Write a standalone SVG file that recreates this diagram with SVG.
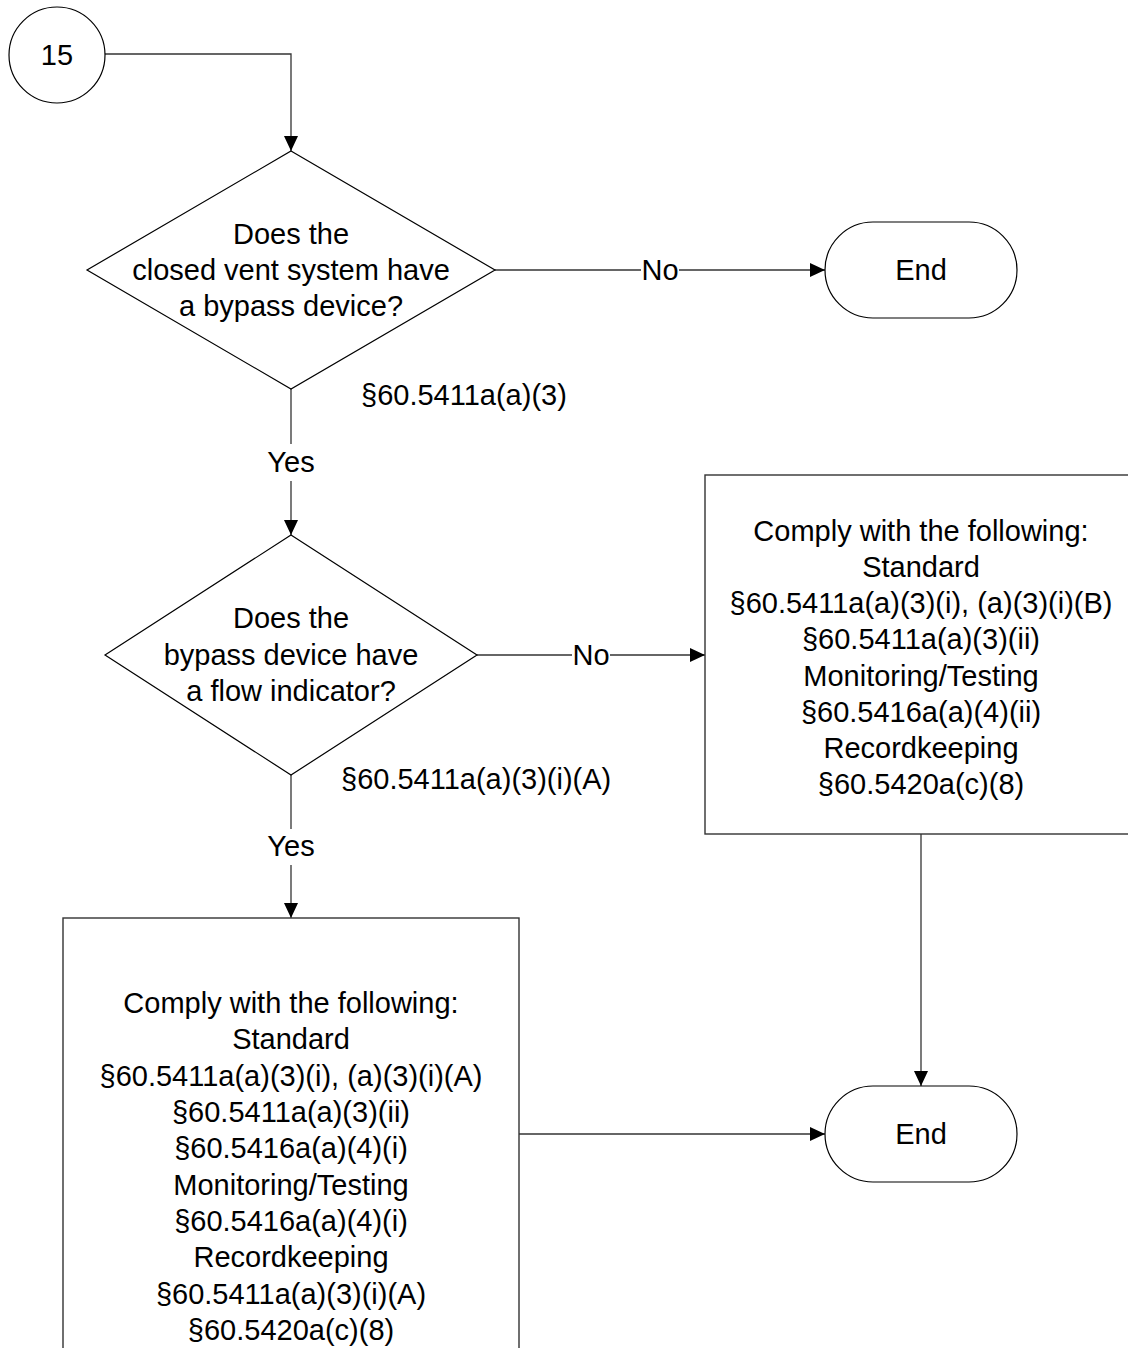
<svg xmlns="http://www.w3.org/2000/svg" width="1128" height="1348" viewBox="0 0 1128 1348">
<style>
.shape{fill:#fff;stroke:#000;stroke-width:1.2}
.box{fill:#fff;stroke:#333;stroke-width:1.4}
.ln{fill:none;stroke:#333;stroke-width:1.3}
text{font-family:"Liberation Sans",Arial,sans-serif;font-size:29px;fill:#000}
.c{text-anchor:middle}
</style>
<defs>
<marker id="ah" markerWidth="15" markerHeight="14" refX="15" refY="7" orient="auto" markerUnits="userSpaceOnUse">
<path d="M0,0 L15,7 L0,14 Z" fill="#000"/>
</marker>
</defs>
<rect width="1128" height="1348" fill="#fff"/>
<g id="connectors">
<path class="ln" d="M105,54 H291 V151" marker-end="url(#ah)"/>
<path class="ln" d="M495,270 H641"/>
<path class="ln" d="M679,270 H825" marker-end="url(#ah)"/>
<text class="c" x="660" y="280">No</text>
<path class="ln" d="M291,389 V444"/>
<path class="ln" d="M291,481 V535" marker-end="url(#ah)"/>
<text class="c" x="291" y="472">Yes</text>
<path class="ln" d="M477,655 H572"/>
<path class="ln" d="M610,655 H705" marker-end="url(#ah)"/>
<text class="c" x="591" y="665">No</text>
<path class="ln" d="M291,775 V829"/>
<path class="ln" d="M291,865 V918" marker-end="url(#ah)"/>
<text class="c" x="291" y="856">Yes</text>
<path class="ln" d="M921,834 V1086" marker-end="url(#ah)"/>
<path class="ln" d="M519,1134 H825" marker-end="url(#ah)"/>
<text x="361" y="405">§60.5411a(a)(3)</text>
<text x="341" y="789">§60.5411a(a)(3)(i)(A)</text>
</g>
<g id="start15">
<circle class="shape" cx="57" cy="55" r="48"/>
<text class="c" x="57" y="65">15</text>
</g>
<g id="decision1">
<path class="shape" d="M291,151 L495,270 L291,389 L87,270 Z"/>
<text class="c" x="291" y="244">Does the</text>
<text class="c" x="291" y="280">closed vent system have</text>
<text class="c" x="291" y="316">a bypass device?</text>
</g>
<g id="end1">
<rect class="shape" x="825" y="222" width="192" height="96" rx="48" ry="48"/>
<text class="c" x="921" y="280">End</text>
</g>
<g id="decision2">
<path class="shape" d="M291,535 L477,655 L291,775 L105,655 Z"/>
<text class="c" x="291" y="628">Does the</text>
<text class="c" x="291" y="665">bypass device have</text>
<text class="c" x="291" y="701">a flow indicator?</text>
</g>
<g id="box-no-flow">
<rect class="box" x="705" y="475" width="440" height="359"/>
<text class="c" x="921" y="541">Comply with the following:</text>
<text class="c" x="921" y="577">Standard</text>
<text class="c" x="921" y="613">§60.5411a(a)(3)(i), (a)(3)(i)(B)</text>
<text class="c" x="921" y="649">§60.5411a(a)(3)(ii)</text>
<text class="c" x="921" y="686">Monitoring/Testing</text>
<text class="c" x="921" y="722">§60.5416a(a)(4)(ii)</text>
<text class="c" x="921" y="758">Recordkeeping</text>
<text class="c" x="921" y="794">§60.5420a(c)(8)</text>
</g>
<g id="box-flow">
<rect class="box" x="63" y="918" width="456" height="500"/>
<text class="c" x="291" y="1013">Comply with the following:</text>
<text class="c" x="291" y="1049">Standard</text>
<text class="c" x="291" y="1086">§60.5411a(a)(3)(i), (a)(3)(i)(A)</text>
<text class="c" x="291" y="1122">§60.5411a(a)(3)(ii)</text>
<text class="c" x="291" y="1158">§60.5416a(a)(4)(i)</text>
<text class="c" x="291" y="1195">Monitoring/Testing</text>
<text class="c" x="291" y="1231">§60.5416a(a)(4)(i)</text>
<text class="c" x="291" y="1267">Recordkeeping</text>
<text class="c" x="291" y="1304">§60.5411a(a)(3)(i)(A)</text>
<text class="c" x="291" y="1340">§60.5420a(c)(8)</text>
</g>
<g id="end2">
<rect class="shape" x="825" y="1086" width="192" height="96" rx="48" ry="48"/>
<text class="c" x="921" y="1144">End</text>
</g>
</svg>
